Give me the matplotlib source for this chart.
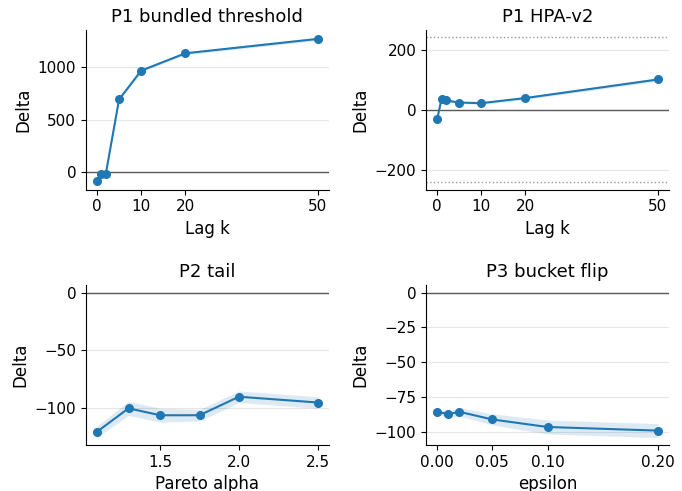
import matplotlib
matplotlib.use('Agg')
import matplotlib.pyplot as plt
import numpy as np

# P1 bundled threshold
lag_k = [0, 1, 2, 5, 10, 20, 50]
bundled_delta = [-86, -16, -16, 691, 965, 1130, 1267]
bundled_ci = [10, 10, 10, 12, 14, 14, 16]

# P1 HPA-v2
hpa_delta = [-32, 36, 31, 24, 22, 39, 101]
hpa_ci = [4, 4, 4, 4, 4, 5, 6]
hpa_bound = 242

# P2 tail
pareto_alpha = [1.1, 1.3, 1.5, 1.75, 2.0, 2.5]
tail_delta = [-120.3, -100, -106, -106, -90, -95]
tail_ci = [5, 6, 6, 5, 5, 5]

# P3 bucket flip
epsilon = [0.0, 0.01, 0.02, 0.05, 0.10, 0.20]
flip_delta = [-85.5, -87.2, -85.5, -91, -96.4, -99]
flip_ci = [2, 2, 3, 4, 5, 5]

color = '#1f77b4'


def panel(ax, x, y, ci, title, xlabel, xticks, xticklabels=None):
    x = np.array(x)
    y = np.array(y)
    ci = np.array(ci)
    ax.fill_between(x, y - ci, y + ci, color=color, alpha=0.15, lw=0)
    ax.plot(x, y, color=color, marker='o', markersize=5.5, lw=1.5)
    ax.axhline(0, color='0.35', lw=1, zorder=1)
    ax.grid(axis='y', color='0.9', lw=0.8)
    ax.set_axisbelow(True)
    ax.set_title(title, fontsize=13)
    ax.set_xlabel(xlabel, fontsize=12)
    ax.set_ylabel('Delta', fontsize=12)
    ax.set_xticks(xticks)
    if xticklabels is not None:
        ax.set_xticklabels(xticklabels)
    ax.tick_params(labelsize=11)
    for s in ('top', 'right'):
        ax.spines[s].set_visible(False)


fig, axes = plt.subplots(2, 2, figsize=(6.82, 4.91), dpi=100)

panel(axes[0, 0], lag_k, bundled_delta, bundled_ci, 'P1 bundled threshold', 'Lag k', [0, 10, 20, 50])

ax = axes[0, 1]
for b in (hpa_bound, -hpa_bound):
    ax.axhline(b, color='0.6', lw=1, ls=':', zorder=1)
panel(ax, lag_k, hpa_delta, hpa_ci, 'P1 HPA-v2', 'Lag k', [0, 10, 20, 50])
ax.set_yticks([-200, 0, 200])

panel(axes[1, 0], pareto_alpha, tail_delta, tail_ci, 'P2 tail', 'Pareto alpha', [1.5, 2.0, 2.5])
axes[1, 0].set_yticks([-100, -50, 0])

panel(axes[1, 1], epsilon, flip_delta, flip_ci, 'P3 bucket flip', 'epsilon',
      [0.0, 0.05, 0.10, 0.20], ['0.00', '0.05', '0.10', '0.20'])
axes[1, 1].set_yticks([-100, -75, -50, -25, 0])

fig.subplots_adjust(left=0.126, right=0.981, top=0.939, bottom=0.094, wspace=0.40, hspace=0.60)
fig.savefig('out.png', dpi=100)
